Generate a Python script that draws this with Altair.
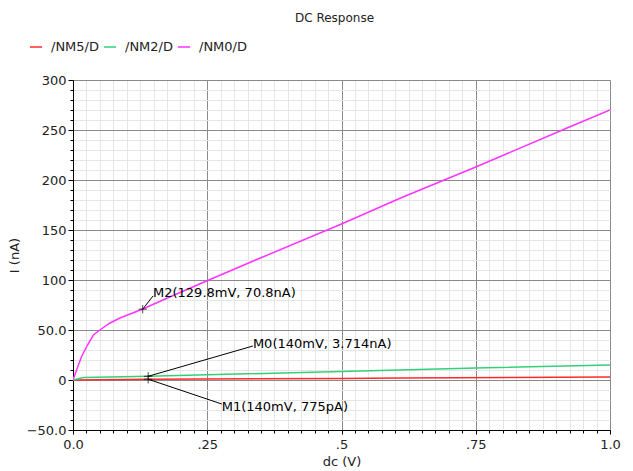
import altair as alt
import pandas as pd

# ---- data ----
nm0_x = [0.0, 0.008, 0.016, 0.027, 0.038, 0.05, 0.069, 0.0875, 0.13, 0.18, 0.24, 0.34, 0.5, 0.61, 0.75, 0.92, 1.0]
nm0_y = [0.0, 12.0, 23.5, 35.0, 45.0, 50.0, 57.0, 62.0, 71.0, 83.0, 97.0, 120.0, 156.0, 182.0, 213.0, 252.0, 270.0]

nm2_x = [0.0, 0.02, 0.14, 0.25, 0.5, 0.75, 1.0]
nm2_y = [0.0, 2.5, 3.714, 5.2, 8.5, 12.0, 15.0]

nm5_x = [0.0, 0.14, 0.5, 0.61, 1.0]
nm5_y = [0.0, 0.775, 1.5, 2.0, 3.0]

series_names = ["/NM5/D", "/NM2/D", "/NM0/D"]
series_colors = ["#ff2a2a", "#33d07a", "#ff33ff"]

marker_names = ["M2(129.8mV, 70.8nA)", "M0(140mV, 3.714nA)", "M1(140mV, 775pA)"]
marker_x = [0.1298, 0.14, 0.14]
marker_y = [70.8, 3.714, 0.775]
label_x = [0.149, 0.335, 0.277]
label_y = [87.0, 36.0, -27.0]
line_end_x = [0.149, 0.335, 0.277]
line_end_y = [84.0, 34.0, -24.0]

x_ticks = [i / 40 for i in range(41)]
y_ticks = list(range(-50, 301, 10))

rows = []
for name, xs, ys in [("/NM5/D", nm5_x, nm5_y), ("/NM2/D", nm2_x, nm2_y), ("/NM0/D", nm0_x, nm0_y)]:
    for a, b in zip(xs, ys):
        rows.append({"series": name, "x": a, "y": b})
df = pd.DataFrame(rows)

mk = pd.DataFrame({"name": marker_names, "mx": marker_x, "my": marker_y,
                   "lx": label_x, "ly": label_y, "ex": line_end_x, "ey": line_end_y})

FONT = "DejaVu Sans"

xscale = alt.Scale(domain=[0, 1], nice=False, zero=False)
yscale = alt.Scale(domain=[-50, 300], nice=False, zero=False)

major_x = "abs(round(datum.value*4) - datum.value*4) < 1e-6"
major_y = "abs(round(datum.value/50) - datum.value/50) < 1e-6"

xaxis = alt.Axis(
    values=x_ticks, tickCount=len(x_ticks), title="dc (V)", grid=True,
    gridColor={"condition": {"test": major_x, "value": "#8a8a8a"}, "value": "#e6e6e6"},
    tickSize={"condition": {"test": major_x, "value": 4}, "value": 3},
    labelExpr="abs(round(datum.value*4) - datum.value*4) < 1e-6 ? (datum.value == 0 ? '0.0' : (datum.value == 1 ? '1.0' : replace(format(datum.value, '.2~f'), '0.', '.'))) : ''",
    labelOverlap=False, labelFlush=False, labelPadding=4,
    domainColor="black", tickColor="black", labelColor="#222", titleColor="#222",
    labelFont=FONT, titleFont=FONT, labelFontSize=13, titleFontSize=13, titleFontWeight="normal",
    titlePadding=4,
)
yaxis = alt.Axis(
    values=y_ticks, tickCount=len(y_ticks), title="I (nA)", grid=True,
    gridColor={"condition": {"test": major_y, "value": "#8a8a8a"}, "value": "#e6e6e6"},
    tickSize={"condition": {"test": major_y, "value": 5}, "value": 3},
    labelExpr="abs(round(datum.value/50) - datum.value/50) < 1e-6 ? (datum.value == 0 ? '0' : (abs(datum.value) < 100 ? format(datum.value, '.1f') : format(datum.value, 'd'))) : ''",
    labelOverlap=False, labelFlush=False, labelPadding=2,
    domainColor="black", tickColor="black", labelColor="#222", titleColor="#222",
    labelFont=FONT, titleFont=FONT, labelFontSize=13, titleFontSize=13, titleFontWeight="normal",
    titlePadding=5,
)

lines = alt.Chart(df).mark_line(strokeWidth=1.5, clip=True).encode(
    x=alt.X("x:Q", scale=xscale, axis=xaxis),
    y=alt.Y("y:Q", scale=yscale, axis=yaxis),
    color=alt.Color("series:N", scale=alt.Scale(domain=series_names, range=series_colors),
                    sort=series_names,
                    legend=alt.Legend(title=None, orient="none", direction="horizontal",
                                      legendX=-44, legendY=-40, symbolType="stroke",
                                      symbolSize=150, symbolStrokeWidth=1.5,
                                      labelFont=FONT, labelFontSize=13, labelColor="#222",
                                      labelOffset=8, columnPadding=1, symbolOffset=0)),
    order="x:Q",
)

connectors = alt.Chart(mk).mark_rule(color="black", strokeWidth=1).encode(
    x=alt.X("mx:Q", scale=xscale), y=alt.Y("my:Q", scale=yscale),
    x2="ex:Q", y2="ey:Q",
)

crosses = alt.Chart(mk).mark_point(shape="M-1,0L1,0M0,-1L0,1", size=70, color="black",
                                   strokeWidth=1, filled=False).encode(
    x=alt.X("mx:Q", scale=xscale), y=alt.Y("my:Q", scale=yscale),
)

labels = alt.Chart(mk).mark_text(align="left", baseline="middle", font=FONT, fontSize=13,
                                 color="black", dx=0).encode(
    x=alt.X("lx:Q", scale=xscale), y=alt.Y("ly:Q", scale=yscale), text="name:N",
)

chart = alt.layer(lines, connectors, crosses, labels).properties(
    width=537, height=350,
    title=alt.TitleParams("DC Response", font=FONT, fontSize=12, fontWeight="normal",
                          color="#222", anchor="middle", offset=15, dx=-7),
    autosize=alt.AutoSizeParams(type="none"),
    padding={"left": 73, "top": 80, "right": 23, "bottom": 41},
).configure_view(stroke="#333", strokeWidth=1).configure(background="white")

chart.save("out.html", embed_options={"renderer": "svg", "actions": False})
